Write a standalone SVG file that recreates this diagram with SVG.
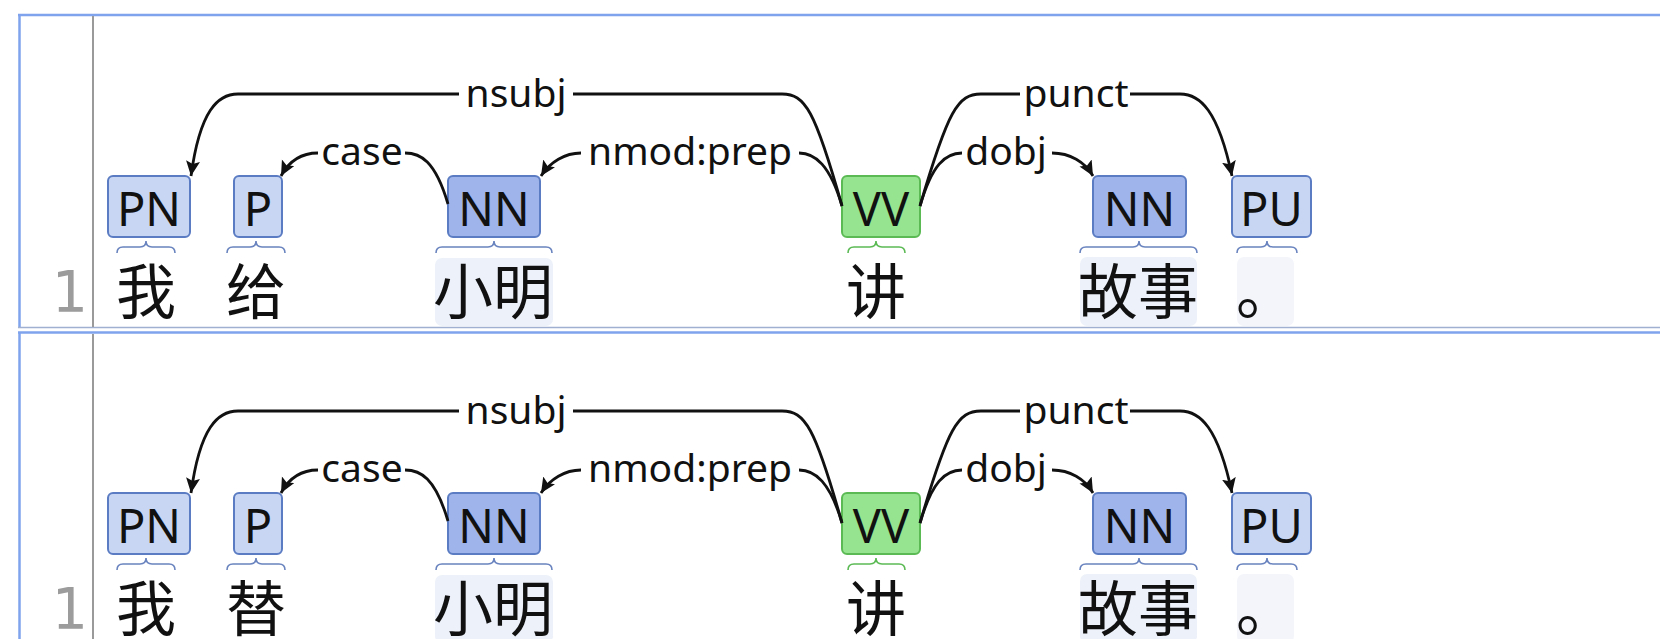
<svg xmlns="http://www.w3.org/2000/svg" width="1660" height="639" viewBox="0 0 1660 639">
<style>
.frame{stroke:#7fa3ec;stroke-width:2.5;fill:none}
.sep{stroke:#a0b0d0;stroke-width:1.5;fill:none}
.gut{stroke:#9a9a9a;stroke-width:2;fill:none}
.num{font-family:"DejaVu Sans",sans-serif;font-size:57px;fill:#9c9c9c;text-anchor:middle}
.boxL{fill:#c8d6f4;stroke:#5b7cc2;stroke-width:2}
.boxD{fill:#9fb4ea;stroke:#5b7cc2;stroke-width:2}
.boxG{fill:#96e48f;stroke:#5cba55;stroke-width:2}
.tag{font-family:"Noto Sans","Open Sans",sans-serif;font-size:47px;fill:#111;text-anchor:middle}
.braceB{fill:none;stroke:#6a84bf;stroke-width:1.6}
.braceG{fill:none;stroke:#5cba55;stroke-width:1.6}
.wbg{fill:#edf1f9}
.wbg2{fill:#f3f5fb}
.word{font-family:"Noto Sans CJK SC","Noto Sans CJK JP",sans-serif;font-size:60px;fill:#111;text-anchor:middle}
.arc{fill:none;stroke:#111;stroke-width:2.8}
.lbl{font-family:"Noto Sans","Open Sans",sans-serif;font-size:39px;fill:#111;text-anchor:middle}
</style>
<defs>
<marker id="ah" markerUnits="userSpaceOnUse" markerWidth="17" markerHeight="15" refX="15" refY="7" orient="auto">
<path d="M0,0 L15,7 L0,14 L3,7 z" fill="#111"/>
</marker>
</defs>
<rect x="0" y="0" width="1660" height="639" fill="#ffffff"/>

<g id="frame">
<line class="frame" x1="18" y1="15" x2="1660" y2="15"/>
<line class="frame" x1="19.5" y1="15" x2="19.5" y2="328"/>
<line class="sep" x1="18" y1="327.5" x2="1660" y2="327.5"/>
<line class="frame" x1="18" y1="332.5" x2="1660" y2="332.5"/>
<line class="frame" x1="19.5" y1="332" x2="19.5" y2="639"/>
<line class="gut" x1="93" y1="16" x2="93" y2="327"/>
<line class="gut" x1="93" y1="334" x2="93" y2="639"/>
</g>

<!-- ============ Panel 1 ============ -->
<g id="panel1">
<text class="num" x="70" y="312">1</text>

<g id="p1-n-wo">
<rect class="boxL" x="108" y="176" width="82" height="61" rx="5"/>
<text class="tag" x="149" y="226">PN</text>
<path class="braceB" d="M117,253 Q117,247 123,247 L140,247 Q146,247 146,241 Q146,247 152,247 L169,247 Q175,247 175,253"/>
<text class="word" x="146" y="314">我</text>
</g>
<g id="p1-n-gei">
<rect class="boxL" x="234" y="176" width="48" height="61" rx="5"/>
<text class="tag" x="258" y="226">P</text>
<path class="braceB" d="M227,253 Q227,247 233,247 L250,247 Q256,247 256,241 Q256,247 262,247 L279,247 Q285,247 285,253"/>
<text class="word" x="256" y="314">给</text>
</g>
<g id="p1-n-xiaoming">
<rect class="boxD" x="448" y="176" width="92" height="61" rx="5"/>
<text class="tag" x="494" y="226">NN</text>
<path class="braceB" d="M436,253 Q436,247 442,247 L488,247 Q494,247 494,241 Q494,247 500,247 L546,247 Q552,247 552,253"/>
<rect class="wbg" x="435" y="258" width="118" height="68" rx="7"/>
<text class="word" x="493" y="314">小明</text>
</g>
<g id="p1-n-jiang">
<rect class="boxG" x="842" y="176" width="78" height="61" rx="5"/>
<text class="tag" x="881" y="226">VV</text>
<path class="braceG" d="M848,253 Q848,247 854,247 L870,247 Q876,247 876,241 Q876,247 882,247 L899,247 Q905,247 905,253"/>
<text class="word" x="876" y="314">讲</text>
</g>
<g id="p1-n-gushi">
<rect class="boxD" x="1093" y="176" width="93" height="61" rx="5"/>
<text class="tag" x="1139.5" y="226">NN</text>
<path class="braceB" d="M1080,253 Q1080,247 1086,247 L1133,247 Q1139,247 1139,241 Q1139,247 1145,247 L1191,247 Q1197,247 1197,253"/>
<rect class="wbg" x="1080" y="257" width="117" height="69" rx="7"/>
<text class="word" x="1138" y="314">故事</text>
</g>
<g id="p1-n-pu">
<rect class="boxL" x="1232" y="176" width="79" height="61" rx="5"/>
<text class="tag" x="1271.5" y="226">PU</text>
<path class="braceB" d="M1237,253 Q1237,247 1243,247 L1261,247 Q1267,247 1267,241 Q1267,247 1273,247 L1291,247 Q1297,247 1297,253"/>
<rect class="wbg2" x="1237" y="257" width="57" height="69" rx="7"/>
<text class="word" x="1236" y="314" style="text-anchor:start">。</text>
</g>

<g id="p1-connectors">
<path class="arc" marker-end="url(#ah)" d="M459,94 L238,94 C218,94 200,110 191,176"/>
<path class="arc" d="M573,94 L782,94 C805,94 815,110 842,206"/>
<text class="lbl" x="516" y="107">nsubj</text>
<path class="arc" marker-end="url(#ah)" d="M318,153 C300,153 288,163 281,176"/>
<path class="arc" d="M405,153 C420,153 435,160 448,204"/>
<text class="lbl" x="362" y="165">case</text>
<path class="arc" marker-end="url(#ah)" d="M581,153 C565,153 550,162 541,176"/>
<path class="arc" d="M799,153 C815,153 830,165 842,206"/>
<text class="lbl" x="690" y="165">nmod:prep</text>
<path class="arc" d="M962,153 C945,153 932,165 920,206"/>
<path class="arc" marker-end="url(#ah)" d="M1052,153 C1070,153 1085,162 1093,176"/>
<text class="lbl" x="1006" y="165">dobj</text>
<path class="arc" d="M1020,94 L981,94 C958,94 948,110 920,206"/>
<path class="arc" marker-end="url(#ah)" d="M1130,94 L1180,94 C1200,94 1218,110 1232,176"/>
<text class="lbl" x="1076" y="107">punct</text>
</g>
</g>

<!-- ============ Panel 2 ============ -->
<g id="panel2" transform="translate(0,317)">
<text class="num" x="70" y="312">1</text>

<g id="p2-n-wo">
<rect class="boxL" x="108" y="176" width="82" height="61" rx="5"/>
<text class="tag" x="149" y="226">PN</text>
<path class="braceB" d="M117,253 Q117,247 123,247 L140,247 Q146,247 146,241 Q146,247 152,247 L169,247 Q175,247 175,253"/>
<text class="word" x="146" y="314">我</text>
</g>
<g id="p2-n-ti">
<rect class="boxL" x="234" y="176" width="48" height="61" rx="5"/>
<text class="tag" x="258" y="226">P</text>
<path class="braceB" d="M227,253 Q227,247 233,247 L250,247 Q256,247 256,241 Q256,247 262,247 L279,247 Q285,247 285,253"/>
<text class="word" x="256" y="314">替</text>
</g>
<g id="p2-n-xiaoming">
<rect class="boxD" x="448" y="176" width="92" height="61" rx="5"/>
<text class="tag" x="494" y="226">NN</text>
<path class="braceB" d="M436,253 Q436,247 442,247 L488,247 Q494,247 494,241 Q494,247 500,247 L546,247 Q552,247 552,253"/>
<rect class="wbg" x="435" y="258" width="118" height="68" rx="7"/>
<text class="word" x="493" y="314">小明</text>
</g>
<g id="p2-n-jiang">
<rect class="boxG" x="842" y="176" width="78" height="61" rx="5"/>
<text class="tag" x="881" y="226">VV</text>
<path class="braceG" d="M848,253 Q848,247 854,247 L870,247 Q876,247 876,241 Q876,247 882,247 L899,247 Q905,247 905,253"/>
<text class="word" x="876" y="314">讲</text>
</g>
<g id="p2-n-gushi">
<rect class="boxD" x="1093" y="176" width="93" height="61" rx="5"/>
<text class="tag" x="1139.5" y="226">NN</text>
<path class="braceB" d="M1080,253 Q1080,247 1086,247 L1133,247 Q1139,247 1139,241 Q1139,247 1145,247 L1191,247 Q1197,247 1197,253"/>
<rect class="wbg" x="1080" y="257" width="117" height="69" rx="7"/>
<text class="word" x="1138" y="314">故事</text>
</g>
<g id="p2-n-pu">
<rect class="boxL" x="1232" y="176" width="79" height="61" rx="5"/>
<text class="tag" x="1271.5" y="226">PU</text>
<path class="braceB" d="M1237,253 Q1237,247 1243,247 L1261,247 Q1267,247 1267,241 Q1267,247 1273,247 L1291,247 Q1297,247 1297,253"/>
<rect class="wbg2" x="1237" y="257" width="57" height="69" rx="7"/>
<text class="word" x="1236" y="314" style="text-anchor:start">。</text>
</g>

<g id="p2-connectors">
<path class="arc" marker-end="url(#ah)" d="M459,94 L238,94 C218,94 200,110 191,176"/>
<path class="arc" d="M573,94 L782,94 C805,94 815,110 842,206"/>
<text class="lbl" x="516" y="107">nsubj</text>
<path class="arc" marker-end="url(#ah)" d="M318,153 C300,153 288,163 281,176"/>
<path class="arc" d="M405,153 C420,153 435,160 448,204"/>
<text class="lbl" x="362" y="165">case</text>
<path class="arc" marker-end="url(#ah)" d="M581,153 C565,153 550,162 541,176"/>
<path class="arc" d="M799,153 C815,153 830,165 842,206"/>
<text class="lbl" x="690" y="165">nmod:prep</text>
<path class="arc" d="M962,153 C945,153 932,165 920,206"/>
<path class="arc" marker-end="url(#ah)" d="M1052,153 C1070,153 1085,162 1093,176"/>
<text class="lbl" x="1006" y="165">dobj</text>
<path class="arc" d="M1020,94 L981,94 C958,94 948,110 920,206"/>
<path class="arc" marker-end="url(#ah)" d="M1130,94 L1180,94 C1200,94 1218,110 1232,176"/>
<text class="lbl" x="1076" y="107">punct</text>
</g>
</g>
</svg>
